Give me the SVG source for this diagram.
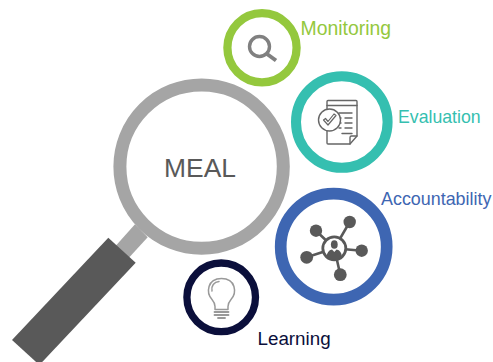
<svg xmlns="http://www.w3.org/2000/svg" width="493" height="362" viewBox="0 0 493 362">
<style>
text{font-family:"Liberation Sans",Arial,sans-serif}
.ring{fill:#fff}
.line{fill:none;stroke-linecap:round;stroke-linejoin:round}
</style>
<rect width="493" height="362" fill="#fff"/>
<g id="magnifier">
<polygon points="135,224.3 147.7,237.3 125,262 112,250" fill="#a5a5a5"/>
<polygon points="108.3,237.7 135.7,262.7 39.4,365 12,340" fill="#595959"/>
<circle class="ring" cx="201.6" cy="166.6" r="81.7" stroke="#a5a5a5" stroke-width="13"/>
<text x="200" y="177" font-size="26.4" fill="#595959" text-anchor="middle">MEAL</text>
</g>
<g id="monitoring">
<circle class="ring" cx="262" cy="47.8" r="34.6" stroke="#94c83d" stroke-width="8.3"/>
<g class="line" stroke="#808080">
<circle cx="259.5" cy="46.5" r="10" stroke-width="3.4"/>
<path d="M267,54L276,60.5" stroke-width="4" stroke-linecap="butt"/>
</g>
<text x="300.500" y="35.300" font-size="19.400" fill="#94c83d">Monitoring</text>
</g>
<g id="evaluation">
<circle class="ring" cx="341.800" cy="122" r="45.800" stroke="#35bfb0" stroke-width="10"/>
<g class="line" stroke="#666" stroke-width="1.400">
<path d="M327,110V101.500Q327,100.500 328,100.500H356Q357,100.500 357,101.500V136L350,144H328Q327,144 327,143V131"/>
<path d="M327,105.500H357M350,144V137.500Q350,136 351.500,136H357"/>
<path d="M339,113H352M339,118H341M345,118H352M339,123H341M345,123H352M339,128H341M345,128H352M342,133.500H352"/>
<circle cx="329.500" cy="120" r="11" fill="#fff"/>
<path d="M323.500,120L328,125L336,115.500L334,114L328,121.500L325.500,118.500Z" stroke-width="1.200"/>
</g>
<text x="398" y="122.500" font-size="17.700" fill="#35bfb0">Evaluation</text>
</g>
<g id="accountability">
<circle class="ring" cx="333.700" cy="246.700" r="53" stroke="#3e66b2" stroke-width="11.700"/>
<g fill="#595959" stroke="#595959">
<path d="M334.300,248.300L349.700,222M334.300,248.300L316,230.700M334.300,248.300L361.700,250.700M334.300,248.300L306.700,257.300M334.300,248.300L340.300,274.700" stroke-width="2.600" fill="none"/>
<g stroke="none">
<circle cx="349.700" cy="222" r="6.200"/>
<circle cx="316" cy="230.700" r="6.200"/>
<circle cx="361.700" cy="250.700" r="6.200"/>
<circle cx="306.700" cy="257.300" r="6.400"/>
<circle cx="340.300" cy="274.700" r="6.400"/>
</g>
<circle cx="334.300" cy="248.300" r="11.500" stroke-width="2.800" fill="#fff"/>
<g stroke="none">
<ellipse cx="334.300" cy="244.500" rx="3.400" ry="4.300"/>
<path d="M326.500,257Q327,250.500 332,249.500L334.300,252L336.600,249.500Q341.600,250.500 342,257Q334.300,261.500 326.500,257Z"/>
</g>
</g>
<text x="381" y="205.300" font-size="17.900" fill="#3e66b2">Accountability</text>
</g>
<g id="learning">
<circle class="ring" cx="221.200" cy="297.300" r="34.300" stroke="#0b0f3b" stroke-width="7.300"/>
<g class="line" stroke="#999" stroke-width="1.500">
<path d="M215,309.500V306.500Q215,303 212,299.500C206,293 207,278.500 221.500,278.500C236,278.500 237,293 231,299.500Q228,303 228,306.500V309.500Z"/>
<path d="M212,291C211,286 214,282 219,281.500"/>
<path d="M214.500,312H228.500M214.500,315H228.500" stroke-width="1.800"/>
<path d="M218,318H225" stroke-width="1.800"/>
</g>
<text x="257.500" y="344.800" font-size="18.800" fill="#0b0f3b">Learning</text>
</g>
<g id="connectors"/>
</svg>
